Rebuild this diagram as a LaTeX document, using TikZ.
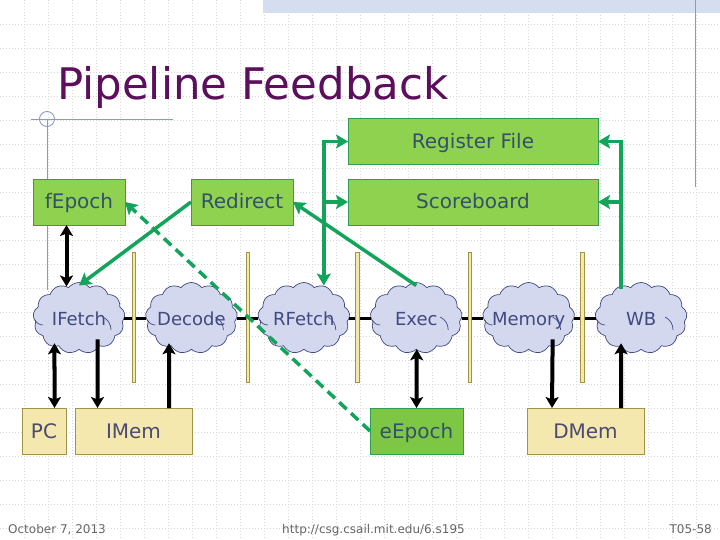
\documentclass[tikz,border=0pt]{standalone}
\usepackage{fontspec}
\setmainfont{DejaVu Sans}
\usetikzlibrary{arrows.meta,chains,shapes.symbols}
\definecolor{leaf}{HTML}{8FD24F}
\definecolor{leafdark}{HTML}{7DC744}
\definecolor{leafline}{HTML}{2F9E55}
\definecolor{leaftext}{HTML}{35506A}
\definecolor{wiregreen}{HTML}{12A45A}
\definecolor{sand}{HTML}{F5E8AF}
\definecolor{sandline}{HTML}{A39445}
\definecolor{sandtext}{HTML}{4A4A72}
\definecolor{puff}{HTML}{D4D8EE}
\definecolor{puffline}{HTML}{3F4A80}
\definecolor{rulerblue}{HTML}{8C98C4}
\definecolor{band}{HTML}{D5DEEE}
\definecolor{plum}{HTML}{5C0F5C}

\begin{document}
\begin{tikzpicture}[
x=1pt, y=-1pt,
node distance=21.6pt,
 start chain = A going right,
    G/.style = {rectangle, draw=leafline, fill=leaf, line width=0.9pt, text=leaftext,
                minimum height=46pt, outer sep=0pt, text height=15pt, text depth=1pt,
                font=\fontsize{20}{22}\selectfont},
    S/.style = {rectangle, draw=sandline, fill=sand, line width=0.9pt, text=sandtext,
                minimum height=46pt, outer sep=0pt, text height=15pt, text depth=1pt,
                font=\fontsize{20}{22}\selectfont},
    C/.style = {cloud, cloud puffs=13, cloud puff arc=105, aspect=1.3, draw=puffline, fill=puff,
                line width=0.7pt, minimum width=92pt, minimum height=71pt, inner sep=0pt, outer sep=0pt,
                on chain},
    L/.style = {text=puffline, text height=14pt, text depth=0pt, inner sep=0pt,
                font=\fontsize{18}{20}\selectfont},
    R/.style = {rectangle, draw=sandline, fill=sand, line width=0.8pt,
                minimum width=3.5pt, minimum height=130pt, inner sep=0pt, outer sep=0pt},
    bk/.style = {line width=4pt, black, >={Stealth[length=11pt,width=13pt,inset=2.5pt]}},
    gn/.style = {line width=3.5pt, wiregreen, >={Stealth[length=12pt,width=14pt,inset=2.5pt]}},
    F/.style = {text=black!60, font=\fontsize{12}{14}\selectfont, inner sep=0pt},
                        ]
\useasboundingbox (0,0) rectangle (720,540);
\fill[white] (0,0) rectangle (720,540);
% slide grid
\foreach \x in {24,48,...,720}
    \draw[black!16, line width=0.7pt, dash pattern=on 1pt off 2pt] (\x,0) -- (\x,540);
\foreach \y in {24,48,...,528}
    \draw[black!16, line width=0.7pt, dash pattern=on 1pt off 2pt] (0,\y) -- (720,\y);
\fill[band] (263,0) rectangle (720,13);
\draw[rulerblue, line width=0.9pt] (31,119) -- (173,119);
\draw[rulerblue, line width=0.9pt] (47,119) -- (47,290);
\draw[rulerblue, line width=0.9pt] (47,119) circle (7.5);
\draw[rulerblue, line width=0.9pt] (695,0) -- (695,187);

\node[anchor=base west, inner sep=0pt, text=plum, font=\fontsize{43.5}{50}\selectfont] (title) at (57,100) {Pipeline Feedback};

% pipeline stages
\foreach \i [count=\j] in {IFetch,Decode,RFetch,Exec,Memory,WB}% <-- content of nodes
    {\ifnum\j=1 \node[C, label={[L]center:\i}] at (79,318) {}; \else \node[C, label={[L]center:\i}] {}; \fi
     \draw[puffline, line width=0.7pt] (A-\j.center) ++(24,-1) to[bend left=30] ++(8,13);
     \draw[puffline, line width=0.7pt] (A-\j.center) ++(-44,2) to[bend right=30] ++(8,5);}
\foreach \i [count=\j from 2] in {1,...,5}
    \draw[line width=3pt] (A-\i.east) -- (A-\j.west);
\foreach \x [count=\j] in {134,248,357.5,470,582.5}
    \node[R] (B-\j) at (\x,317) {};

% boxes
\node[G, minimum width=250pt] (regfile) at (473,141.5) {Register File};
\node[G, minimum width=250pt] (scoreboard) at (473,202) {Scoreboard};
\node[G, minimum width=92pt] (fepoch) at (79,202) {fEpoch};
\node[G, minimum width=102pt] (redirect) at (242,202) {Redirect};
\node[S, minimum width=44pt] (pc) at (44,431) {PC};
\node[S, minimum width=117pt] (imem) at (133.5,431) {IMem};
\node[G, fill=leafdark, minimum width=93pt] (eepoch) at (416.5,431) {eEpoch};
\node[S, minimum width=117pt] (dmem) at (585.5,431) {DMem};

% black data paths
\draw[bk,<->] ([xshift=-12.5pt]fepoch.south) -- ([xshift=-12.5pt,yshift=-4pt]A-1.north);
\draw[bk,<->] ([xshift=10.5pt]pc.north) -- ([xshift=-24.5pt,yshift=6pt]A-1.south);
\draw[bk,->] ([xshift=18.5pt,yshift=10pt]A-1.south) -- ([xshift=-36pt]imem.north);
\draw[bk,->] ([xshift=35.5pt]imem.north) -- ([xshift=-22.4pt,yshift=6pt]A-2.south);
\draw[bk,<->] ([xshift=0.5pt]A-4.south) -- (eepoch.north);
\draw[bk,->] ([xshift=24pt,yshift=10pt]A-5.south) -- ([xshift=-33.5pt]dmem.north);
\draw[bk,->] ([xshift=35.5pt]dmem.north) -- ([xshift=-20pt,yshift=6pt]A-6.south);

% green feedback paths
\coordinate (rfjoin) at ([xshift=20pt,yshift=-3pt]A-3.north);
\coordinate (wbjoin) at ([xshift=-20pt,yshift=-6pt]A-6.north);
\draw[gn,->] (redirect.west) -- ([yshift=-3pt]A-1.north);
\draw[gn,->] ([yshift=-3pt]A-4.north) -- (redirect.east);
\draw[gn,<->] (regfile.west) -| (rfjoin);
\draw[gn,->] (rfjoin |- scoreboard.west) -- (scoreboard.west);
\draw[gn,->] (wbjoin) |- (regfile.east);
\draw[gn,->] (wbjoin |- scoreboard.east) -- (scoreboard.east);
\draw[gn,->,dash pattern=on 10pt off 6pt] (eepoch.west) -- (fepoch.east);

% footer
\node[F, anchor=base west] (date) at (8,533) {October 7, 2013};
\node[F, anchor=base] (url) at (373.5,533) {http://csg.csail.mit.edu/6.s195};
\node[F, anchor=base east] (slide) at (712,533) {T05-58};
\end{tikzpicture}
\end{document}
